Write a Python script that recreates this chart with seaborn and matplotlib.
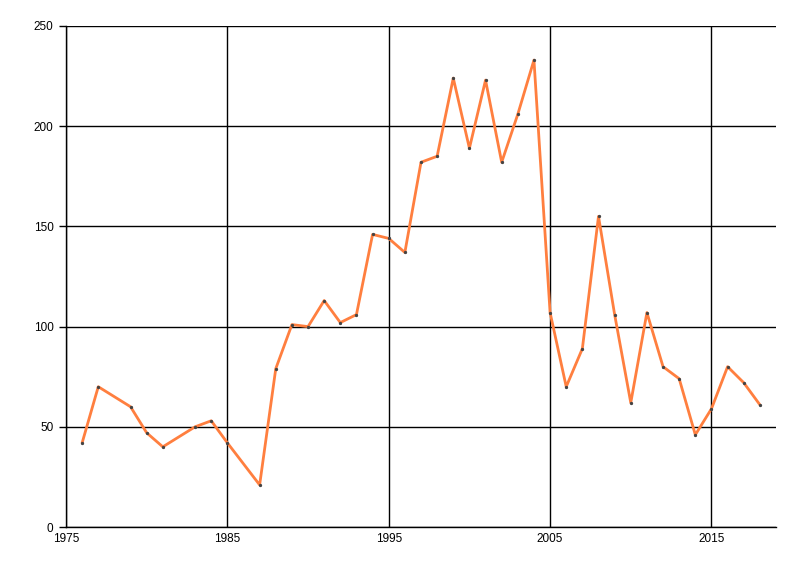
import matplotlib
matplotlib.use("Agg")
import matplotlib.pyplot as plt
import seaborn as sns
import pandas as pd

years = [1976, 1977, 1979, 1980, 1981, 1983, 1984, 1985, 1987, 1988,
         1989, 1990, 1991, 1992, 1993, 1994, 1995, 1996, 1997, 1998,
         1999, 2000, 2001, 2002, 2003, 2004, 2005, 2006, 2007, 2008,
         2009, 2010, 2011, 2012, 2013, 2014, 2015, 2016, 2017, 2018]
values = [42, 70, 60, 47, 40, 50, 53, 42, 21, 79,
          101, 100, 113, 102, 106, 146, 144, 137, 182, 185,
          224, 189, 223, 182, 206, 233, 107, 70, 89, 155,
          106, 62, 107, 80, 74, 46, 59, 80, 72, 61]
x_ticks = [1975, 1985, 1995, 2005, 2015]
y_ticks = [0, 50, 100, 150, 200, 250]

df = pd.DataFrame({"year": years, "value": values})

sns.set_style("white")
plt.rcParams['font.family'] = ['Liberation Sans', 'DejaVu Sans']

fig = plt.figure(figsize=(8, 5.76), dpi=100)
ax = fig.add_axes([66/800, 1-527/576, (776-66)/800, (527-26)/576])

sns.lineplot(data=df, x="year", y="value", ax=ax, color="#FF7F3F", linewidth=2,
             marker="o", markersize=1.6, markerfacecolor="#444444",
             markeredgecolor="#444444", zorder=3)

ax.set_xlim(1975, 2019)
ax.set_ylim(0, 250)
ax.set_xticks(x_ticks)
ax.set_yticks(y_ticks)
ax.grid(True, color="black", linewidth=1)
ax.set_axisbelow(True)
for s in ["top", "right"]:
    ax.spines[s].set_visible(False)
for s in ["left", "bottom"]:
    ax.spines[s].set_color("black")
    ax.spines[s].set_linewidth(1)
ax.tick_params(axis="y", left=True, length=5, width=1, color="black", labelsize=8.5, pad=4,
               labelcolor="black")
ax.tick_params(axis="x", bottom=False, length=0, labelsize=8.5, pad=4, labelcolor="black")
ax.set_xlabel("")
ax.set_ylabel("")

fig.savefig("out.png", dpi=100)
